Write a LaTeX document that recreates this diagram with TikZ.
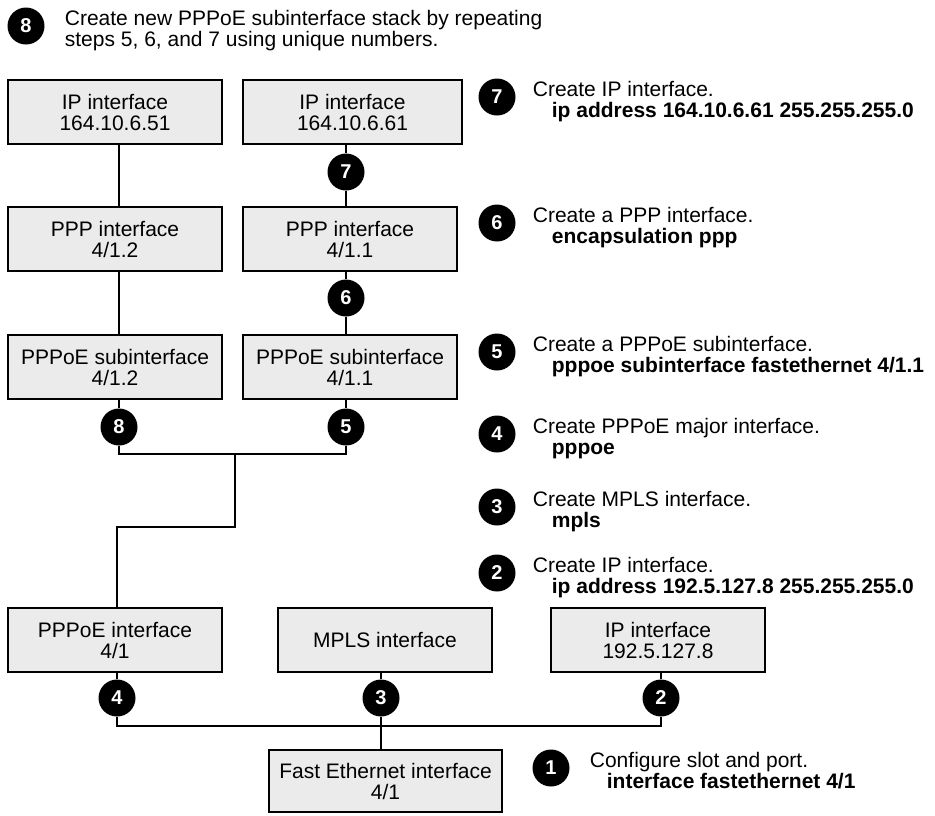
\documentclass[tikz,border=0pt]{standalone}
\usepackage{fontspec}
\setmainfont{Liberation Sans}
\usepackage{tikz}
\usetikzlibrary{positioning}
\definecolor{boxfill}{HTML}{EBEBEB}

\begin{document}
\begin{tikzpicture}[x=1pt, y=-1pt,
  ifbox/.style={draw, line width=2.4pt, fill=boxfill, minimum width=214pt, minimum height=64pt, align=center, inner sep=0pt, font=\fontsize{21}{21}\selectfont},
  stepdot/.style={circle, fill=black, text=white, inner sep=0pt, minimum size=37pt, font=\fontsize{20}{20}\selectfont\bfseries},
  note/.style={align=left, inner sep=0pt, yshift=-20pt, font=\fontsize{21}{21}\selectfont},
  wire/.style={line width=2.4pt}]
\useasboundingbox (0,0) rectangle (935,815);
% interface boxes
\node[ifbox] (ipA) at (115,112) {IP interface\\164.10.6.51};
\node[ifbox, minimum width=219pt] (ipB) at (352.5,112) {IP interface\\164.10.6.61};
\node[ifbox] (pppA) at (115,239) {PPP interface\\4/1.2};
\node[ifbox] (pppB) at (350,239) {PPP interface\\4/1.1};
\node[ifbox] (subA) at (115,367) {PPPoE subinterface\\4/1.2};
\node[ifbox] (subB) at (350,367) {PPPoE subinterface\\4/1.1};
\node[ifbox] (pppoe) at (115,640) {PPPoE interface\\4/1};
\node[ifbox] (mpls) at (385,640) {MPLS interface};
\node[ifbox] (ipC) at (658,640) {IP interface\\192.5.127.8};
\node[ifbox, minimum width=233pt, minimum height=62pt] (fe) at (385.5,781) {Fast Ethernet interface\\4/1};
% step markers on the links
\node[stepdot] (m7) at (346,172) {7};
\node[stepdot] (m6) at (346,298) {6};
\node[stepdot] (m5) at (346,427) {5};
\node[stepdot] (m8) at (119,427) {8};
\node[stepdot] (m4) at (117,698) {4};
\node[stepdot] (m3) at (381,698) {3};
\node[stepdot] (m2) at (661,698) {2};
\coordinate (join) at (235,454);
\coordinate (bus) at (381,726);
% links
\draw[wire] (m7) -- (m7 |- ipB.south);
\draw[wire] (m7) -- (m7 |- pppB.north);
\draw[wire] (m6) -- (m6 |- pppB.south);
\draw[wire] (m6) -- (m6 |- subB.north);
\draw[wire] (m5) -- (m5 |- subB.south);
\draw[wire] (m8) -- (m8 |- subA.south);
\draw[wire] (m8 |- ipA.south) -- (m8 |- pppA.north);
\draw[wire] (m8 |- pppA.south) -- (m8 |- subA.north);
\draw[wire] (m8) |- (m5 |- join) -- (m5);
\draw[wire] (join) -- ++(0,73) -| (m4 |- pppoe.north);
\draw[wire] (m4) -- (m4 |- pppoe.south);
\draw[wire] (m3) -- (m3 |- mpls.south);
\draw[wire] (m2) -- (m2 |- ipC.south);
\draw[wire] (m4) |- (bus) -| (m2);
\draw[wire] (m3) -- (m3 |- fe.north);
% steps
\node[stepdot] (s8) at (26,26) {8};
\node[note, right=20pt of s8, anchor=base west] (t8) {Create new PPPoE subinterface stack by repeating\\steps 5, 6, and 7 using unique numbers.};
\node[stepdot] (s7) at (497,97) {7};
\node[note, right=17pt of s7, anchor=base west] (t7) {Create IP interface.\\\hspace*{19pt}\textbf{ip address 164.10.6.61 255.255.255.0}};
\node[stepdot] (s6) at (497,223) {6};
\node[note, right=17pt of s6, anchor=base west] (t6) {Create a PPP interface.\\\hspace*{19pt}\textbf{encapsulation ppp}};
\node[stepdot] (s5) at (497,352) {5};
\node[note, right=17pt of s5, anchor=base west] (t5) {Create a PPPoE subinterface.\\\hspace*{19pt}\textbf{pppoe subinterface fastethernet 4/1.1}};
\node[stepdot] (s4) at (497,434) {4};
\node[note, right=17pt of s4, anchor=base west] (t4) {Create PPPoE major interface.\\\hspace*{19pt}\textbf{pppoe}};
\node[stepdot] (s3) at (497,507) {3};
\node[note, right=17pt of s3, anchor=base west] (t3) {Create MPLS interface.\\\hspace*{19pt}\textbf{mpls}};
\node[stepdot] (s2) at (497,573) {2};
\node[note, right=17pt of s2, anchor=base west] (t2) {Create IP interface.\\\hspace*{19pt}\textbf{ip address 192.5.127.8 255.255.255.0}};
\node[stepdot] (s1) at (551,768) {1};
\node[note, right=20pt of s1, anchor=base west] (t1) {Configure slot and port.\\\hspace*{17pt}\textbf{interface fastethernet 4/1}};
\end{tikzpicture}
\end{document}
